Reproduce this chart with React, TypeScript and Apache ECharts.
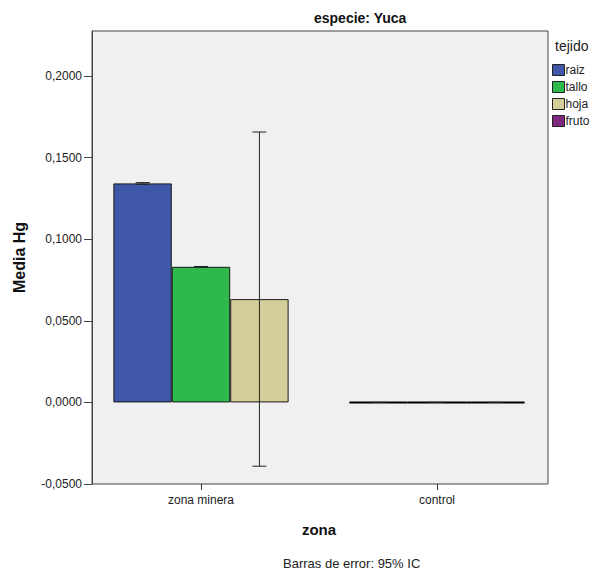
import React, { useEffect, useRef } from "react";
import * as echarts from "echarts";

// zona groups on the x axis
const categories = ["zona minera", "control"];

// mean Hg per tejido and zona
const raiz = [0.1342, 0];
const tallo = [0.0831, 0];
const hoja = [0.0633, 0];
const fruto: number[] = [];

// 95% confidence interval bounds per tejido and zona
const raizLow = [0.1337, 0];
const raizHigh = [0.1347, 0];
const talloLow = [0.0829, 0];
const talloHigh = [0.0833, 0];
const hojaLow = [-0.0391, 0];
const hojaHigh = [0.1657, 0];

// y ticks
const yMin = -0.05;
const yMax = 0.2276;
const yStep = 0.05;

const FONT = "Liberation Sans, Arial, sans-serif";
const BAR_FRAC = 0.2475; // bar width as a share of the category band
const CAP_FRAC = 0.24; // error cap width as a share of the bar width

const COLORS = {
  raiz: "#3e57a9",
  tallo: "#2fb84b",
  hoja: "#d4cf9a",
  fruto: "#7d287e",
};

const errorData: number[][] = [];
[
  [raizLow, raizHigh],
  [talloLow, talloHigh],
  [hojaLow, hojaHigh],
].forEach(([lo, hi], slot) => {
  categories.forEach((_, c) => {
    errorData.push([c, lo[c], hi[c], slot]);
  });
});

const fmt = (v: number) => v.toFixed(4).replace(".", ",");

// zero-height bars collapse to a heavier outline
const barData = (values: number[]) =>
  values.map((v) =>
    v === 0 ? { value: v, itemStyle: { borderColor: "#000", borderWidth: 2 } } : v
  );

export default function App() {
  const ref = useRef<HTMLDivElement>(null);

  useEffect(() => {
    if (!ref.current) return;
    const chart = echarts.init(ref.current, undefined, { renderer: "svg" });

    const barItem = (color: string) => ({
      color,
      borderColor: "#1a1a1a",
      borderWidth: 1,
    });

    chart.setOption({
      animation: false,
      textStyle: { fontFamily: FONT },
      title: [
        {
          text: "especie: Yuca",
          left: 314,
          top: 11,
          padding: 0,
          textStyle: { fontFamily: FONT, fontSize: 14, fontWeight: "bold", color: "#111" },
        },
        {
          text: "tejido",
          left: 555,
          top: 39,
          padding: 0,
          textStyle: { fontFamily: FONT, fontSize: 14, fontWeight: "normal", color: "#222" },
        },
        {
          text: "Barras de error: 95% IC",
          left: 283,
          top: 557,
          padding: 0,
          textStyle: { fontFamily: FONT, fontSize: 13, fontWeight: "normal", color: "#222" },
        },
      ],
      legend: {
        orient: "vertical",
        left: 552,
        top: 64,
        padding: 0,
        itemWidth: 12,
        itemHeight: 11,
        itemGap: 5,
        icon: "rect",
        data: ["raiz", "tallo", "hoja", "fruto"],
        itemStyle: { borderColor: "#222", borderWidth: 1 },
        textStyle: { fontFamily: FONT, fontSize: 12, color: "#222", padding: [0, 0, 0, -4] },
      },
      grid: [
        // bar layout grid
        { left: 83, top: 31, width: 472, height: 453, show: false },
        // framed plot area
        {
          left: 92,
          top: 31,
          width: 456,
          height: 453,
          show: true,
          backgroundColor: "#f0f0f0",
          borderColor: "#444",
          borderWidth: 1,
        },
      ],
      xAxis: [
        {
          type: "category",
          gridIndex: 0,
          data: categories,
          name: "zona",
          nameLocation: "middle",
          nameGap: 38,
          nameTextStyle: { fontFamily: FONT, fontSize: 15, fontWeight: "bold", color: "#111" },
          axisLine: { show: false, onZero: false },
          axisTick: { show: true, alignWithLabel: true, length: 6, lineStyle: { color: "#333" } },
          axisLabel: { fontFamily: FONT, fontSize: 12, color: "#222", margin: 10 },
        },
        { type: "category", gridIndex: 0, data: categories, show: false },
        { type: "value", gridIndex: 1, show: false },
      ],
      yAxis: [
        { type: "value", gridIndex: 0, min: yMin, max: yMax, interval: yStep, show: false },
        {
          type: "value",
          gridIndex: 1,
          min: yMin,
          max: yMax,
          interval: yStep,
          name: "Media Hg",
          nameLocation: "middle",
          nameGap: 65,
          nameTextStyle: { fontFamily: FONT, fontSize: 16, fontWeight: "bold", color: "#111" },
          splitLine: { show: false },
          axisLine: { show: true, lineStyle: { color: "#444" } },
          axisTick: { show: true, length: 8, lineStyle: { color: "#444" } },
          axisLabel: {
            fontFamily: FONT,
            fontSize: 12,
            color: "#222",
            margin: 10,
            showMaxLabel: false,
            formatter: (v: number) => fmt(v),
          },
        },
      ],
      series: [
        {
          name: "raiz",
          type: "bar",
          xAxisIndex: 0,
          yAxisIndex: 0,
          data: barData(raiz),
          barWidth: `${BAR_FRAC * 100}%`,
          barGap: "0%",
          itemStyle: barItem(COLORS.raiz),
          z: 3,
        },
        {
          name: "tallo",
          type: "bar",
          xAxisIndex: 0,
          yAxisIndex: 0,
          data: barData(tallo),
          barWidth: `${BAR_FRAC * 100}%`,
          barGap: "0%",
          itemStyle: barItem(COLORS.tallo),
          z: 3,
        },
        {
          name: "hoja",
          type: "bar",
          xAxisIndex: 0,
          yAxisIndex: 0,
          data: barData(hoja),
          barWidth: `${BAR_FRAC * 100}%`,
          barGap: "0%",
          itemStyle: barItem(COLORS.hoja),
          z: 3,
        },
        {
          name: "fruto",
          type: "bar",
          xAxisIndex: 1,
          yAxisIndex: 0,
          data: fruto,
          itemStyle: barItem(COLORS.fruto),
        },
        {
          name: "IC 95%",
          type: "custom",
          xAxisIndex: 0,
          yAxisIndex: 0,
          data: errorData,
          z: 5,
          silent: true,
          renderItem: (_params: any, api: any) => {
            const c = api.value(0);
            const lo = api.value(1);
            const hi = api.value(2);
            const slot = api.value(3);
            const band = api.size([1, 0])[0];
            const bw = band * BAR_FRAC;
            const cx = api.coord([c, 0])[0] + (slot - 1) * bw;
            const yLo = api.coord([c, lo])[1];
            const yHi = api.coord([c, hi])[1];
            const half = (bw * CAP_FRAC) / 2;
            const style = { stroke: "#222", lineWidth: 1 };
            return {
              type: "group",
              children: [
                { type: "line", shape: { x1: cx, y1: yLo, x2: cx, y2: yHi }, style },
                { type: "line", shape: { x1: cx - half, y1: yHi, x2: cx + half, y2: yHi }, style },
                { type: "line", shape: { x1: cx - half, y1: yLo, x2: cx + half, y2: yLo }, style },
              ],
            };
          },
        },
      ],
    });

    return () => chart.dispose();
  }, []);

  return (
    <div
      ref={ref}
      style={{ position: "fixed", left: 0, top: 0, width: 596, height: 571, background: "#fff" }}
    />
  );
}
